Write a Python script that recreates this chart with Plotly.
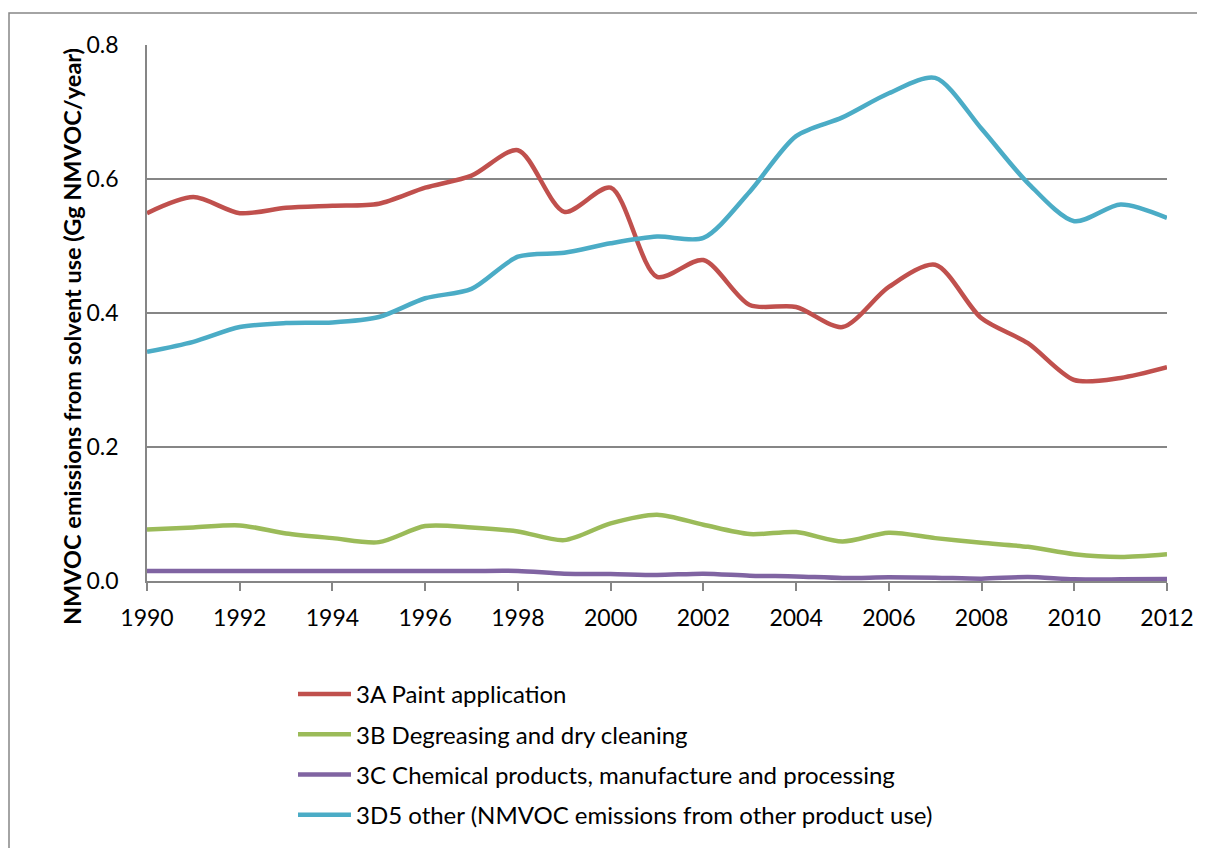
import plotly.graph_objects as go

years = list(range(1990, 2013))

paint_3a = [0.549, 0.573, 0.549, 0.557, 0.560, 0.563, 0.587, 0.605, 0.643, 0.551, 0.587,
            0.454, 0.479, 0.412, 0.409, 0.379, 0.439, 0.472, 0.392, 0.355, 0.300, 0.303, 0.319]
degreasing_3b = [0.077, 0.080, 0.083, 0.071, 0.064, 0.058, 0.082, 0.080, 0.074, 0.061, 0.086,
                 0.099, 0.084, 0.070, 0.073, 0.059, 0.072, 0.064, 0.057, 0.051, 0.040, 0.036, 0.040]
chemical_3c = [0.015, 0.015, 0.015, 0.015, 0.015, 0.015, 0.015, 0.015, 0.015, 0.011, 0.0105,
               0.009, 0.011, 0.008, 0.0068, 0.0045, 0.0055, 0.005, 0.0035, 0.006, 0.0025, 0.0025, 0.003]
other_3d5 = [0.342, 0.357, 0.379, 0.385, 0.386, 0.394, 0.422, 0.436, 0.484, 0.490, 0.504,
             0.514, 0.512, 0.581, 0.664, 0.692, 0.728, 0.751, 0.675, 0.594, 0.537, 0.562, 0.542]

series_names = [
    "3A Paint application",
    "3B Degreasing and dry cleaning",
    "3C Chemical products, manufacture and processing",
    "3D5 other (NMVOC emissions from other product use)",
]
series_values = [paint_3a, degreasing_3b, chemical_3c, other_3d5]
colors = ["#C0504D", "#9BBB59", "#8064A2", "#4BACC6"]

y_ticks = [0.0, 0.2, 0.4, 0.6, 0.8]
x_ticks = list(range(1990, 2013, 2))

FONT = "Lato"
# page body has an 8px offset; plot area targets screen x 147..1167, y 45..581
OFF = 8
L, T = 147 - OFF, 45 - OFF
PW, PH = 1020, 536
R = 1205 - (L + PW)
B = 848 - (T + PH)


def px(sx):
    return (sx - 147) / PW


def py(sy):
    return (581 - sy) / PH


fig = go.Figure()
for i, (name, vals, col) in enumerate(zip(series_names, series_values, colors)):
    fig.add_trace(go.Scatter(
        x=years, y=vals, name=name, mode="lines",
        line=dict(color=col, width=4.5, shape="spline", smoothing=0.8),
        legendgroup=f"g{i}", cliponaxis=False,
    ))

grid = "#868686"
fig.update_layout(
    width=1205, height=848,
    margin=dict(l=L, r=R, t=T, b=B),
    paper_bgcolor="white", plot_bgcolor="white",
    font=dict(family=FONT, size=23, color="black"),
    showlegend=True,
    legend=dict(
        x=px(293), y=py(672), xanchor="left", yanchor="top",
        font=dict(family=FONT, size=24, color="black"),
        tracegroupgap=6, itemwidth=53,
        bgcolor="rgba(0,0,0,0)",
    ),
    xaxis=dict(
        range=[1990, 2012], tickmode="array", tickvals=x_ticks,
        ticktext=[str(t) for t in x_ticks],
        showgrid=False, zeroline=False,
        showline=True, linecolor=grid, linewidth=1.5,
        ticks="outside", ticklen=8, tickwidth=1.5, tickcolor=grid,
        tickfont=dict(family=FONT, size=23), ticklabelstandoff=8,
    ),
    yaxis=dict(
        range=[0, 0.8], tickmode="array", tickvals=y_ticks,
        ticktext=[f"{t:.1f}" for t in y_ticks],
        showgrid=True, gridcolor=grid, gridwidth=1.5, zeroline=False,
        showline=True, linecolor=grid, linewidth=1.5,
        ticks="", tickfont=dict(family=FONT, size=23), ticklabelstandoff=22,
    ),
    annotations=[dict(
        text="<b>NMVOC emissions from solvent use (Gg NMVOC/year)</b>",
        xref="paper", yref="paper", x=px(72), y=py(337),
        xanchor="center", yanchor="middle", textangle=-90, showarrow=False,
        font=dict(family=FONT, size=23.5, color="black"),
    )],
    shapes=[dict(
        type="rect", xref="paper", yref="paper",
        x0=px(9), x1=px(1215), y0=py(870), y1=py(13),
        line=dict(color="#868686", width=1.5), fillcolor="rgba(0,0,0,0)", layer="below",
    )],
)

fig.write_html("out.html")
